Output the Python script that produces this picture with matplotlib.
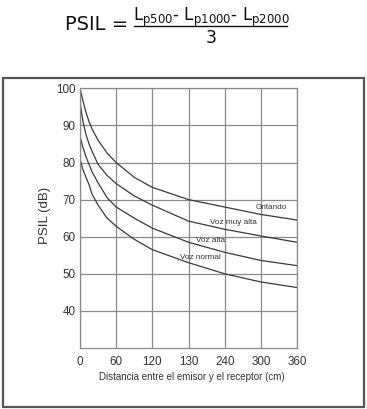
import matplotlib
matplotlib.use("Agg")
import matplotlib.pyplot as plt
from matplotlib.patches import Rectangle
from matplotlib.lines import Line2D

plt.rcParams['font.family'] = ['Liberation Sans', 'DejaVu Sans']
plt.rcParams['mathtext.fontset'] = 'dejavusans'
plt.rcParams['mathtext.default'] = 'regular'

# ---- data ----
distance = [0, 5, 10, 15, 20, 30, 45, 60, 90, 120, 180, 240, 300, 360]
gritando = [100, 96.5, 93.5, 91, 89, 86, 82.5, 80, 76, 73.3, 70, 68, 66, 64.5]
voz_muy_alta = [96, 91, 87.5, 85, 83, 79.5, 76.5, 74.3, 71, 68.5, 64.2, 62, 60.2, 58.5]
voz_alta = [87, 84, 81.5, 79.5, 77.5, 74.5, 70.5, 68, 65, 62.3, 58.5, 55.8, 53.6, 52.2]
voz_normal = [81, 78, 76, 74, 71.5, 68.5, 65, 62.8, 59.3, 56.5, 53, 50, 47.8, 46.3]

series_names = ['Gritando', 'Voz muy alta', 'Voz alta', 'Voz normal']
label_pos_x = [318, 255, 216, 199]
label_pos_y = [68.0, 63.9, 59.1, 54.3]

x_ticks = [0, 60, 120, 180, 240, 300, 360]
x_tick_labels = ['0', '60', '120', '130', '240', '300', '360']
y_ticks = [40, 50, 60, 70, 80, 90, 100]

W, H = 367, 409
fig = plt.figure(figsize=(W / 100, H / 100), dpi=100)

# outer frame
fig.patches.append(Rectangle((3 / W, 1 - 407 / H), 361 / W, 329 / H,
                             transform=fig.transFigure, fill=False,
                             edgecolor='#555555', linewidth=1.6))

# formula
fig.text(128 / W, 1 - 30 / H, 'PSIL =', fontsize=14, family='DejaVu Sans',
         ha='right', va='baseline', color='#111111')
fig.text(211 / W, 1 - 21 / H,
         r'L$_{p500}$- L$_{p1000}$- L$_{p2000}$',
         fontsize=12, family='DejaVu Sans', ha='center', va='baseline',
         color='#111111')
fig.lines.append(Line2D([134 / W, 287 / W], [1 - 26 / H, 1 - 26 / H],
                        transform=fig.transFigure, color='#111111', lw=1.0))
fig.text(211 / W, 1 - 43 / H, '3', fontsize=12.5, family='DejaVu Sans',
         ha='center', va='baseline', color='#111111')

ax = fig.add_axes([80 / W, 1 - 348 / H, 217 / W, (348 - 88.3) / H])
ax.set_xlim(0, 360)
ax.set_ylim(30, 100)
ax.set_xticks(x_ticks)
ax.set_xticklabels(x_tick_labels)
ax.set_yticks(y_ticks)
ax.tick_params(axis='both', length=0, labelsize=8.4, colors='#333333')
ax.tick_params(axis='x', pad=6)
ax.tick_params(axis='y', pad=3)
ax.grid(True, color='#8a8a8a', linewidth=0.9)
for s in ax.spines.values():
    s.set_color('#8a8a8a')
    s.set_linewidth(0.9)

for vals in [gritando, voz_muy_alta, voz_alta, voz_normal]:
    ax.plot(distance, vals, color='#3a3a3a', linewidth=0.9)

for name, lx, ly in zip(series_names, label_pos_x, label_pos_y):
    ax.text(lx, ly, name, fontsize=5.9, color='#333333', ha='center', va='center')

fig.text(45 / W, 1 - 215 / H, 'PSIL (dB)', rotation=90, fontsize=9.5,
         ha='center', va='center', color='#333333')
fig.text(191.5 / W, 1 - 377 / H, 'Distancia entre el emisor y el receptor (cm)',
         fontsize=7, ha='center', va='center', color='#333333')

fig.savefig('out.png', dpi=100)
